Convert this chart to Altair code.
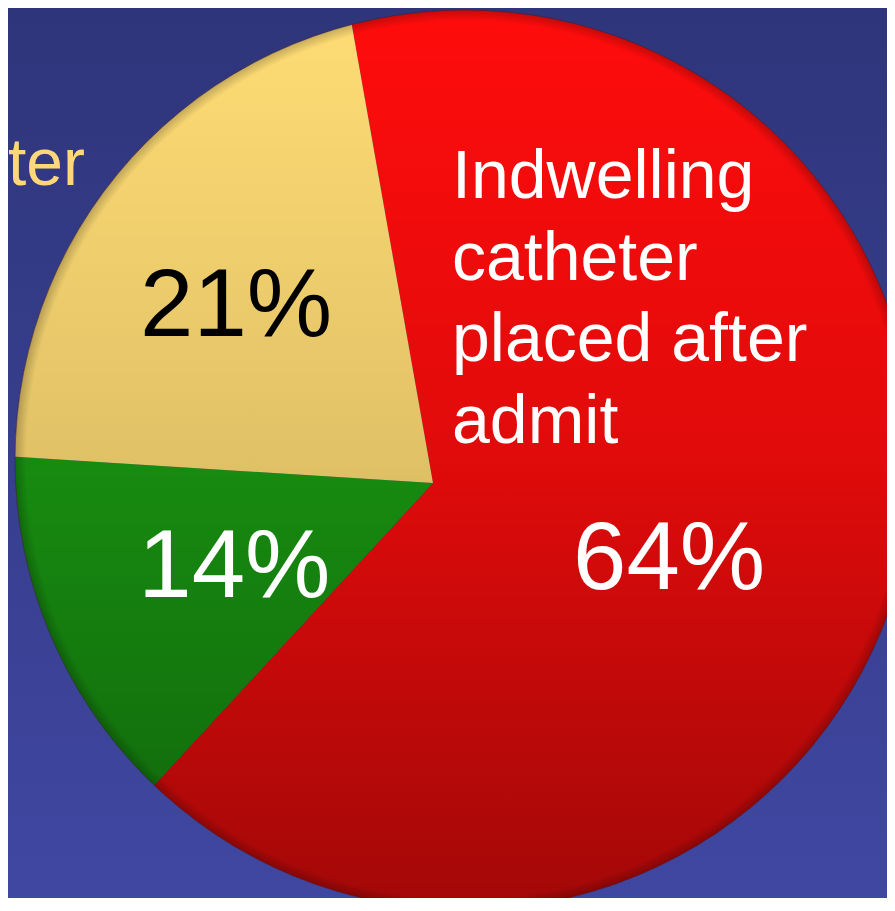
import math
import altair as alt
import pandas as pd

# ---------------- data ----------------
categories = [
    "Indwelling catheter placed after admit",
    "No indwelling catheter",
    "Catheter present on admit",
]
percents = [64, 14, 21]
slice_colors = ["#ff0c0c", "#1a9e12", "#ffdc74"]
pct_label_colors = ["#ffffff", "#ffffff", "#000000"]
red_label_lines = ["Indwelling", "catheter", "placed after", "admit"]
left_label_text = "catheter"

# ---------------- layout / style ----------------
OFF = 8                      # page margin
W, H = 895 - 2 * OFF, 890
VX, VY = 433 - OFF, 483 - OFF        # apex of the slices
CX, CY, R = 465 - OFF, 460 - OFF, 450  # outline of the disc
TAU = 2 * math.pi
START = math.radians(-10.05) + TAU
LABEL_R = [246, 214, 264]
LABEL_DY = [8, 5, 0]
FONT = "Liberation Sans, Arial, sans-serif"
BG_TOP, BG_BOT = "#2f357a", "#3f47a1"

total = sum(percents)
ends = pd.Series(percents).cumsum()
df = pd.DataFrame({
    "category": categories,
    "value": percents,
    "order": list(range(len(categories))),
    "end": ends,
})
df["start"] = df["end"] - df["value"]
df["mid"] = (df["start"] + df["end"]) / 2
df["pct_label"] = [f"{v}%" for v in percents]

one = pd.DataFrame({"k": [0]})
theta_scale = alt.Scale(domain=[0, total], range=[START, START + TAU])

# background
bg = alt.Chart(one).mark_rect(
    fill=alt.LinearGradient(
        gradient="linear", x1=0, x2=0, y1=0, y2=1,
        stops=[alt.GradientStop(color=BG_TOP, offset=0),
               alt.GradientStop(color=BG_BOT, offset=1)],
    )
).encode(x=alt.value(0), x2=alt.value(W), y=alt.value(0), y2=alt.value(H))

# slices
slices = alt.Chart(df).mark_arc(radius=520).encode(
    x=alt.value(VX), y=alt.value(VY),
    theta=alt.Theta("start:Q", scale=theta_scale),
    theta2="end:Q",
    color=alt.Color("category:N",
                    scale=alt.Scale(domain=categories, range=slice_colors),
                    legend=None),
)

# vertical shading over the disc
shade = alt.Chart(one).mark_arc(
    radius=R,
    fill=alt.LinearGradient(
        gradient="linear", x1=0, x2=0, y1=0, y2=1,
        stops=[alt.GradientStop(color="rgba(0,0,0,0)", offset=0),
               alt.GradientStop(color="rgba(0,0,0,0.12)", offset=0.5),
               alt.GradientStop(color="rgba(0,0,0,0.36)", offset=1)],
    ),
).encode(x=alt.value(CX), y=alt.value(CY),
         theta=alt.value(0), theta2=alt.value(TAU))

# rim darkening
rim = alt.Chart(one).mark_arc(
    radius=R,
    fill=alt.RadialGradient(
        gradient="radial", x1=0.5, y1=0.5, r1=0, x2=0.5, y2=0.5, r2=0.5,
        stops=[alt.GradientStop(color="rgba(0,0,0,0)", offset=0),
               alt.GradientStop(color="rgba(0,0,0,0)", offset=0.975),
               alt.GradientStop(color="rgba(0,0,0,0.22)", offset=1)],
    ),
).encode(x=alt.value(CX), y=alt.value(CY),
         theta=alt.value(0), theta2=alt.value(TAU))

# mask outside the disc with the background gradient
MR = 720
f0 = (MR - CY) / (2 * MR)
f1 = (MR - CY + H) / (2 * MR)
mask = alt.Chart(one).mark_arc(
    radius=MR, radius2=R,
    fill=alt.LinearGradient(
        gradient="linear", x1=0, x2=0, y1=0, y2=1,
        stops=[alt.GradientStop(color=BG_TOP, offset=0),
               alt.GradientStop(color=BG_TOP, offset=f0),
               alt.GradientStop(color=BG_BOT, offset=f1),
               alt.GradientStop(color=BG_BOT, offset=1)],
    ),
).encode(x=alt.value(CX), y=alt.value(CY),
         theta=alt.value(0), theta2=alt.value(TAU))

outline = alt.Chart(one).mark_arc(
    radius=R, fillOpacity=0, stroke="#3a1c2c", strokeWidth=1, strokeOpacity=0.55
).encode(x=alt.value(CX), y=alt.value(CY),
         theta=alt.value(0), theta2=alt.value(TAU))

# percent labels
pct_layers = []
for i, cat in enumerate(categories):
    pct_layers.append(
        alt.Chart(df).transform_filter(alt.datum.category == cat).mark_text(
            radius=LABEL_R[i], dy=LABEL_DY[i], fontSize=96, font=FONT,
            color=pct_label_colors[i], align="center", baseline="middle",
        ).encode(
            x=alt.value(VX), y=alt.value(VY),
            theta=alt.Theta("mid:Q", scale=theta_scale),
            text="pct_label:N",
        )
    )

red_label = alt.Chart(pd.DataFrame({"label": ["\n".join(red_label_lines)]})).mark_text(
    align="left", baseline="alphabetic", lineBreak="\n", lineHeight=81.5,
    fontSize=68, font=FONT, color="#ffffff",
).encode(x=alt.value(452 - OFF), y=alt.value(198 - OFF), text="label:N")

left_label = alt.Chart(pd.DataFrame({"label": [left_label_text]})).mark_text(
    align="right", baseline="alphabetic", fontSize=66, font=FONT, color="#ffd77b",
).encode(x=alt.value(85 - OFF), y=alt.value(185 - OFF), text="label:N")

chart = alt.layer(
    bg, slices, shade, rim, mask, outline, *pct_layers, red_label, left_label
).properties(
    width=W, height=H,
    autosize=alt.AutoSizeParams(type="none"),
    padding=0,
    background=BG_TOP,
).configure_view(stroke=None)

chart.save("out.html", embed_options={"renderer": "svg", "actions": False})
